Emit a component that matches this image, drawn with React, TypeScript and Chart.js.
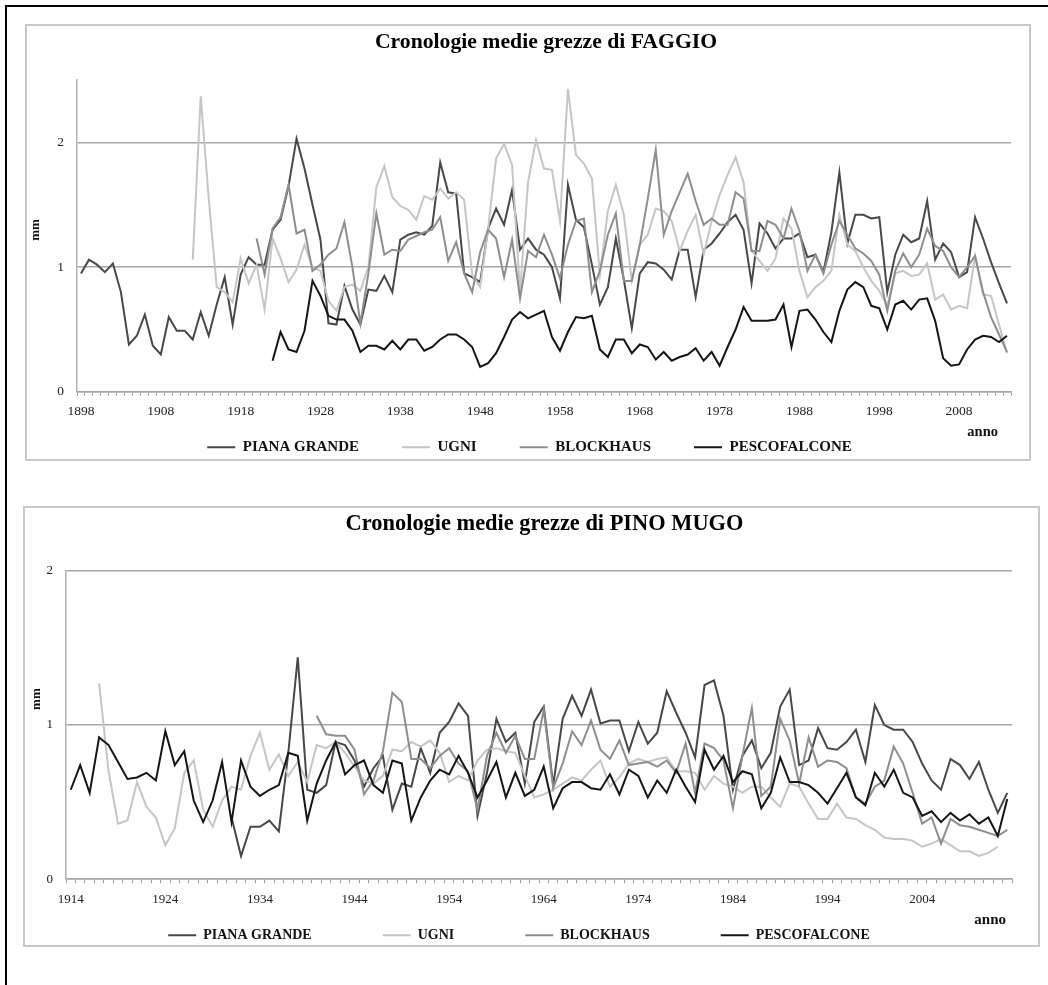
import React, { useEffect, useRef } from 'react';
import { Chart, registerables } from 'chart.js';

Chart.register(...registerables);

const SERIF = "'Liberation Serif', 'Times New Roman', Times, serif";

// ---------- categories ----------
const FAGGIO_FIRST_YEAR = 1898;
const FAGGIO_LAST_YEAR = 2014;
const MUGO_FIRST_YEAR = 1914;
const MUGO_LAST_YEAR = 2013;
const YEAR_LABEL_STEP = 10;

// ---------- series names / colours ----------
const SERIES_NAMES = ['PIANA GRANDE', 'UGNI', 'BLOCKHAUS', 'PESCOFALCONE'];
const SERIES_COLORS = ['#484848', '#c6c6c6', '#8e8e8e', '#151515'];

// ---------- y ticks ----------
const FAGGIO_Y_TICKS = [0, 1, 2];
const FAGGIO_Y_MAX = 2.5;
const MUGO_Y_TICKS = [0, 1, 2];
const MUGO_Y_MAX = 2;

// ---------- FAGGIO (mm) ----------
const FAGGIO_PIANA_START = 1898;
const FAGGIO_PIANA = [
  0.95, 1.06, 1.02, 0.96, 1.03, 0.80, 0.38, 0.45, 0.62, 0.37,
  0.30, 0.60, 0.49, 0.49, 0.42, 0.64, 0.45, 0.70, 0.92, 0.54,
  0.94, 1.08, 1.02, 1.02, 1.30, 1.38, 1.65, 2.03, 1.79, 1.50,
  1.22, 0.55, 0.54, 0.85, 0.66, 0.54, 0.82, 0.81, 0.93, 0.80,
  1.22, 1.26, 1.28, 1.26, 1.33, 1.84, 1.60, 1.59, 0.95, 0.92,
  0.88, 1.31, 1.47, 1.34, 1.62, 1.14, 1.23, 1.14,
  1.10, 1.00, 0.75, 1.66, 1.38, 1.32, 1.02, 0.70, 0.84, 1.23,
  0.90, 0.51, 0.95, 1.04, 1.03, 0.98, 0.90, 1.14, 1.14, 0.76,
  1.14, 1.19, 1.27, 1.36, 1.42, 1.30, 0.87, 1.35, 1.27, 1.15,
  1.23, 1.23, 1.27, 1.08, 1.10, 0.96, 1.28, 1.76, 1.19, 1.42,
  1.42, 1.39, 1.40, 0.80, 1.10, 1.26, 1.20, 1.23, 1.53, 1.06,
  1.19, 1.12, 0.92, 0.96, 1.40, 1.23, 1.04, 0.87, 0.71,
];
const FAGGIO_UGNI_START = 1912;
const FAGGIO_UGNI = [
  1.06, 2.37, 1.55, 0.84, 0.80, 0.72, 1.07, 0.87, 1.02, 0.66,
  1.23, 1.07, 0.88, 0.98, 1.18, 1.00, 0.97, 0.73, 0.65, 0.84,
  0.86, 0.81, 1.00, 1.64, 1.81, 1.56, 1.49, 1.46, 1.38, 1.57,
  1.54, 1.63, 1.55, 1.60, 1.54, 0.94, 0.84, 1.31, 1.87, 1.99,
  1.82, 0.80, 1.68, 2.02, 1.79, 1.78, 1.37, 2.43, 1.90, 1.83,
  1.71, 0.94, 1.45, 1.66, 1.42, 0.89, 1.18, 1.26, 1.47, 1.45,
  1.37, 1.13, 1.29, 1.42, 1.10, 1.37, 1.58, 1.74, 1.88, 1.68,
  1.13, 1.05, 0.97, 1.07, 1.39, 1.31, 0.97, 0.76, 0.84, 0.89,
  0.97, 1.42, 1.18, 1.13, 1.00, 0.89, 0.81, 0.69, 0.95, 0.97,
  0.93, 0.94, 1.03, 0.74, 0.78, 0.66, 0.69, 0.67, 1.09, 0.78,
  0.77, 0.54, 0.31,
];
const FAGGIO_BLOCKHAUS_START = 1920;
const FAGGIO_BLOCKHAUS = [
  1.23, 0.94, 1.31, 1.40, 1.66, 1.27, 1.30, 0.97, 1.02, 1.10,
  1.15, 1.36, 1.00, 0.55, 0.95, 1.43, 1.10, 1.14, 1.13, 1.22,
  1.25, 1.28, 1.30, 1.40, 1.05, 1.20, 0.95, 0.80, 1.12, 1.30,
  1.23, 0.92, 1.22, 0.75, 1.13, 1.08, 1.26, 1.10, 0.91, 1.18,
  1.37, 1.39, 0.80, 0.97, 1.26, 1.43, 0.89, 0.89, 1.18, 1.55,
  1.94, 1.26, 1.45, 1.60, 1.75, 1.53, 1.34, 1.39, 1.34, 1.34,
  1.60, 1.55, 1.13, 1.13, 1.37, 1.34, 1.23, 1.47, 1.29, 0.97,
  1.10, 0.95, 1.18, 1.37, 1.26, 1.15, 1.11, 1.05, 0.94, 0.65,
  0.97, 1.11, 1.00, 1.10, 1.31, 1.17, 1.13, 1.00, 0.92, 1.00,
  1.09, 0.80, 0.60, 0.46, 0.32,
];
const FAGGIO_PESCO_START = 1922;
const FAGGIO_PESCO = [
  0.25, 0.48, 0.34, 0.32, 0.49, 0.89, 0.77, 0.61, 0.58, 0.58,
  0.49, 0.32, 0.37, 0.37, 0.34, 0.41, 0.34, 0.42, 0.42, 0.33,
  0.36, 0.42, 0.46, 0.46, 0.42, 0.36, 0.20, 0.23, 0.31, 0.44,
  0.58, 0.64, 0.59, 0.62, 0.65, 0.44, 0.33, 0.48, 0.60, 0.59,
  0.61, 0.34, 0.28, 0.42, 0.42, 0.31, 0.38, 0.36, 0.26, 0.32,
  0.25, 0.28, 0.30, 0.35, 0.25, 0.32, 0.21, 0.36, 0.50, 0.68,
  0.57, 0.57, 0.57, 0.58, 0.70, 0.36, 0.65, 0.66, 0.58, 0.48,
  0.40, 0.65, 0.82, 0.88, 0.84, 0.69, 0.67, 0.50, 0.70, 0.73,
  0.66, 0.74, 0.75, 0.57, 0.27, 0.21, 0.22, 0.34, 0.42, 0.45,
  0.44, 0.40, 0.45,
];

// ---------- PINO MUGO (mm) ----------
const MUGO_PIANA_START = 1931;
const MUGO_PIANA = [
  0.40, 0.15, 0.34, 0.34, 0.38, 0.31, 0.82, 1.44, 0.58, 0.56,
  0.61, 0.89, 0.87, 0.77, 0.60, 0.72, 0.80, 0.45, 0.62, 0.60,
  0.85, 0.69, 0.95, 1.02, 1.14, 1.06, 0.41, 0.69, 1.04, 0.89,
  0.95, 0.62, 1.02, 1.12, 0.61, 1.04, 1.19, 1.06, 1.23, 1.01,
  1.03, 1.03, 0.83, 1.02, 0.88, 0.95, 1.22, 1.08, 0.95, 0.79,
  1.26, 1.29, 1.06, 0.58, 0.80, 0.90, 0.72, 0.82, 1.12, 1.23,
  0.74, 0.77, 0.98, 0.85, 0.84, 0.89, 0.97, 0.76, 1.13, 1.00,
  0.97, 0.97, 0.89, 0.75, 0.64, 0.58, 0.78, 0.74, 0.65, 0.76,
  0.58, 0.43, 0.56,
];
const MUGO_UGNI_START = 1917;
const MUGO_UGNI = [
  1.27, 0.70, 0.36, 0.38, 0.63, 0.47, 0.40, 0.22, 0.33, 0.69,
  0.77, 0.45, 0.34, 0.51, 0.60, 0.58, 0.80, 0.95, 0.71, 0.81,
  0.67, 0.76, 0.63, 0.87, 0.85, 0.89, 0.82, 0.73, 0.64, 0.62,
  0.67, 0.84, 0.83, 0.89, 0.86, 0.90, 0.82, 0.63, 0.67, 0.64,
  0.77, 0.84, 0.85, 0.83, 0.82, 0.67, 0.53, 0.55, 0.58, 0.62,
  0.66, 0.64, 0.71, 0.77, 0.60, 0.66, 0.75, 0.78, 0.76, 0.78,
  0.79, 0.70, 0.70, 0.69, 0.58, 0.67, 0.62, 0.60, 0.56, 0.60,
  0.60, 0.53, 0.47, 0.62, 0.60, 0.49, 0.39, 0.39, 0.49, 0.40,
  0.39, 0.35, 0.32, 0.27, 0.26, 0.26, 0.25, 0.21, 0.23, 0.26,
  0.22, 0.18, 0.18, 0.15, 0.17, 0.21,
];
const MUGO_BLOCKHAUS_START = 1940;
const MUGO_BLOCKHAUS = [
  1.06, 0.94, 0.93, 0.93, 0.84, 0.55, 0.64, 0.83, 1.21, 1.15,
  0.78, 0.78, 0.72, 0.80, 0.85, 0.75, 0.70, 0.45, 0.80, 0.95,
  0.82, 0.93, 0.78, 0.78, 1.10, 0.59, 0.75, 0.96, 0.87, 1.03,
  0.84, 0.78, 0.90, 0.74, 0.75, 0.76, 0.73, 0.77, 0.69, 0.88,
  0.56, 0.88, 0.85, 0.77, 0.46, 0.80, 1.11, 0.54, 0.60, 1.04,
  0.90, 0.62, 0.92, 0.73, 0.77, 0.76, 0.72, 0.53, 0.49, 0.60,
  0.64, 0.86, 0.75, 0.56, 0.36, 0.40, 0.23, 0.39, 0.35, 0.34,
  0.32, 0.30, 0.28, 0.32,
];
const MUGO_PESCO_START = 1914;
const MUGO_PESCO = [
  0.58, 0.74, 0.56, 0.92, 0.87, 0.76, 0.65, 0.66, 0.69, 0.64,
  0.96, 0.74, 0.83, 0.51, 0.37, 0.51, 0.76, 0.37, 0.77, 0.60,
  0.54, 0.58, 0.61, 0.82, 0.80, 0.38, 0.62, 0.77, 0.89, 0.68,
  0.74, 0.77, 0.61, 0.56, 0.77, 0.75, 0.38, 0.53, 0.64, 0.71,
  0.68, 0.80, 0.69, 0.53, 0.64, 0.76, 0.53, 0.69, 0.54, 0.58,
  0.73, 0.46, 0.59, 0.63, 0.63, 0.59, 0.58, 0.68, 0.55, 0.71,
  0.67, 0.53, 0.64, 0.56, 0.71, 0.60, 0.50, 0.84, 0.71, 0.80,
  0.63, 0.70, 0.68, 0.46, 0.56, 0.79, 0.63, 0.63, 0.61, 0.56,
  0.49, 0.59, 0.69, 0.53, 0.48, 0.69, 0.60, 0.71, 0.56, 0.53,
  0.41, 0.44, 0.37, 0.43, 0.38, 0.42, 0.36, 0.40, 0.28, 0.52,
];

type SeriesIn = { start: number; values: number[] };

type Spec = {
  title: string;
  firstYear: number;
  lastYear: number;
  series: SeriesIn[];
  yMax: number;
  yTicks: number[];
  canvasX: number;
  canvasY: number;
  canvasW: number;
  canvasH: number;
  yAxisWidth: number;
  padRight: number;
  titleSize: number;
  titlePadTop: number;
  titlePadBottom: number;
  titleDx: number;
  tickSize: number;
  xTickPadding: number;
  xAxisHeight: number;
  annoSize: number;
  annoDx: number;
  mmPadTop: number;
  mmDy: number;
  legendSize: number;
  legendGap: number;
  legendTop: number;
  legendDx: number;
  lineWidth: number;
};

function yearLabels(first: number, last: number): string[] {
  const out: string[] = [];
  for (let y = first; y <= last; y++) out.push(String(y));
  return out;
}

function padSeries(first: number, s: SeriesIn): (number | null)[] {
  const lead: (number | null)[] = new Array(s.start - first).fill(null);
  return lead.concat(s.values);
}

function buildConfig(spec: Spec): any {
  const labels = yearLabels(spec.firstYear, spec.lastYear);
  const datasets = spec.series.map((s, k) => ({
    label: SERIES_NAMES[k],
    data: padSeries(spec.firstYear, s),
    borderColor: SERIES_COLORS[k],
    backgroundColor: SERIES_COLORS[k],
    borderWidth: spec.lineWidth,
    pointRadius: 0,
    pointHoverRadius: 0,
    tension: 0,
    fill: false,
    spanGaps: false,
    order: 3 - k,
  }));

  // fine placement of legend, chart title and axis titles after the layout pass
  const placeBoxes = {
    id: 'placeBoxes',
    afterLayout(chart: any) {
      const lg = chart.legend;
      if (lg) {
        const h = lg.bottom - lg.top;
        lg.top = spec.legendTop;
        lg.bottom = spec.legendTop + h;
        lg.left += spec.legendDx;
        lg.right += spec.legendDx;
      }
      const tb = chart.titleBlock;
      if (tb) {
        tb.left += spec.titleDx;
        tb.right += spec.titleDx;
      }
      const xs = chart.scales.x;
      if (xs && !xs.__patched) {
        xs.__patched = true;
        const orig = xs.drawTitle;
        xs.drawTitle = function (...args: any[]) {
          const r = this.right;
          this.right = r + spec.annoDx;
          orig.apply(this, args);
          this.right = r;
        };
      }
      const ys = chart.scales.y;
      if (ys && !ys.__patched) {
        ys.__patched = true;
        const orig = ys.drawTitle;
        ys.drawTitle = function (...args: any[]) {
          const t = this.top;
          const b = this.bottom;
          this.top = t + spec.mmDy;
          this.bottom = b + spec.mmDy;
          orig.apply(this, args);
          this.top = t;
          this.bottom = b;
        };
      }
    },
  };

  return {
    type: 'line',
    data: { labels, datasets },
    plugins: [placeBoxes],
    options: {
      animation: false,
      responsive: false,
      maintainAspectRatio: false,
      devicePixelRatio: 1,
      events: [],
      layout: { padding: { left: 0, right: spec.padRight, top: 0, bottom: 0 } },
      plugins: {
        title: {
          display: true,
          text: spec.title,
          fullSize: false,
          color: '#000',
          font: { family: SERIF, size: spec.titleSize, weight: 'bold' },
          padding: { top: spec.titlePadTop, bottom: spec.titlePadBottom },
        },
        legend: {
          display: true,
          position: 'bottom',
          labels: {
            usePointStyle: true,
            pointStyle: 'line',
            pointStyleWidth: 28,
            padding: spec.legendGap,
            color: '#111',
            font: { family: SERIF, size: spec.legendSize, weight: 'bold' },
            sort: (a: any, b: any) => a.datasetIndex - b.datasetIndex,
          },
        },
        tooltip: { enabled: false },
      },
      scales: {
        x: {
          type: 'category',
          offset: true,
          grid: {
            display: true,
            drawOnChartArea: false,
            drawTicks: true,
            tickLength: 4,
            offset: true,
            color: '#9c9c9c',
            lineWidth: 1,
          },
          border: { display: true, color: '#a6a6a6', width: 1.5 },
          ticks: {
            autoSkip: false,
            maxRotation: 0,
            minRotation: 0,
            padding: spec.xTickPadding,
            color: '#222',
            font: { family: SERIF, size: spec.tickSize },
            callback: function (this: any, value: any, index: number) {
              return index % YEAR_LABEL_STEP === 0 ? this.getLabelForValue(value) : '';
            },
          },
          title: {
            display: true,
            text: 'anno',
            align: 'end',
            color: '#111',
            font: { family: SERIF, size: spec.annoSize, weight: 'bold' },
            padding: { top: 0, bottom: 0 },
          },
          afterFit: (s: any) => {
            s.height = spec.xAxisHeight;
          },
        },
        y: {
          min: 0,
          max: spec.yMax,
          afterBuildTicks: (axis: any) => {
            axis.ticks = spec.yTicks.map((v) => ({ value: v }));
          },
          grid: { color: '#a8a8a8', lineWidth: 1.5, drawTicks: false },
          border: { display: true, color: '#b4b4b4', width: 1.5 },
          ticks: {
            padding: 13,
            color: '#222',
            font: { family: SERIF, size: spec.tickSize },
          },
          title: {
            display: true,
            text: 'mm',
            color: '#111',
            font: { family: SERIF, size: 13, weight: 'bold' },
            padding: { top: spec.mmPadTop, bottom: 0 },
          },
          afterFit: (s: any) => {
            s.width = spec.yAxisWidth;
          },
        },
      },
    },
  };
}

const FAGGIO_SPEC: Spec = {
  title: 'Cronologie medie grezze di FAGGIO',
  firstYear: FAGGIO_FIRST_YEAR,
  lastYear: FAGGIO_LAST_YEAR,
  series: [
    { start: FAGGIO_PIANA_START, values: FAGGIO_PIANA },
    { start: FAGGIO_UGNI_START, values: FAGGIO_UGNI },
    { start: FAGGIO_BLOCKHAUS_START, values: FAGGIO_BLOCKHAUS },
    { start: FAGGIO_PESCO_START, values: FAGGIO_PESCO },
  ],
  yMax: FAGGIO_Y_MAX,
  yTicks: FAGGIO_Y_TICKS,
  canvasX: 27,
  canvasY: 26,
  canvasW: 1002,
  canvasH: 483,
  yAxisWidth: 50,
  padRight: 18,
  titleSize: 21.7,
  titlePadTop: 3.0,
  titlePadBottom: 25.0,
  titleDx: 2,
  tickSize: 13.5,
  xTickPadding: 7,
  xAxisHeight: 49.1,
  annoSize: 14.5,
  annoDx: -13,
  mmPadTop: 0.6,
  mmDy: -6,
  legendSize: 15,
  legendGap: 43,
  legendTop: 370.7,
  legendDx: 10.5,
  lineWidth: 2,
};

const MUGO_SPEC: Spec = {
  title: 'Cronologie medie grezze di PINO MUGO',
  firstYear: MUGO_FIRST_YEAR,
  lastYear: MUGO_LAST_YEAR,
  series: [
    { start: MUGO_PIANA_START, values: MUGO_PIANA },
    { start: MUGO_UGNI_START, values: MUGO_UGNI },
    { start: MUGO_BLOCKHAUS_START, values: MUGO_BLOCKHAUS },
    { start: MUGO_PESCO_START, values: MUGO_PESCO },
  ],
  yMax: MUGO_Y_MAX,
  yTicks: MUGO_Y_TICKS,
  canvasX: 25,
  canvasY: 508,
  canvasW: 1013,
  canvasH: 516,
  yAxisWidth: 41,
  padRight: 26,
  titleSize: 22.4,
  titlePadTop: 2.66,
  titlePadBottom: 33.46,
  titleDx: 5.5,
  tickSize: 13,
  xTickPadding: 9,
  xAxisHeight: 49.9,
  annoSize: 15,
  annoDx: -6,
  mmPadTop: 3.9,
  mmDy: -26,
  legendSize: 14,
  legendGap: 71,
  legendTop: 349.3,
  legendDx: 0.5,
  lineWidth: 2,
};

function LineChartPanel({ spec }: { spec: Spec }) {
  const ref = useRef<HTMLCanvasElement | null>(null);
  useEffect(() => {
    const canvas = ref.current;
    if (!canvas) return;
    const chart = new Chart(canvas, buildConfig(spec));
    return () => chart.destroy();
  }, [spec]);
  return (
    <canvas
      ref={ref}
      width={spec.canvasW}
      height={spec.canvasH}
      style={{
        position: 'absolute',
        left: spec.canvasX,
        top: spec.canvasY,
        width: spec.canvasW,
        height: spec.canvasH,
      }}
    />
  );
}

export default function App() {
  return (
    <div
      style={{
        position: 'fixed',
        left: 0,
        top: 0,
        width: 1048,
        height: 985,
        overflow: 'hidden',
        background: '#fff',
      }}
    >
      <div
        style={{
          position: 'absolute',
          left: 5,
          top: 5,
          width: 1100,
          height: 1100,
          borderTop: '2px solid #000',
          borderLeft: '2px solid #000',
        }}
      />
      <div
        style={{
          position: 'absolute',
          left: 25,
          top: 24,
          width: 1006,
          height: 437,
          border: '2px solid #c8c8c8',
          boxSizing: 'border-box',
        }}
      />
      <div
        style={{
          position: 'absolute',
          left: 23,
          top: 506,
          width: 1017,
          height: 441,
          border: '2px solid #c8c8c8',
          boxSizing: 'border-box',
        }}
      />
      <LineChartPanel spec={FAGGIO_SPEC} />
      <LineChartPanel spec={MUGO_SPEC} />
    </div>
  );
}
